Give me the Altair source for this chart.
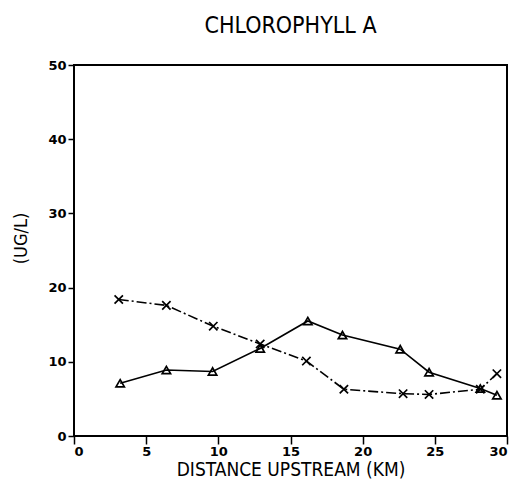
import altair as alt
import pandas as pd

# Triangle series (solid line)
tri_km = [3.2, 6.4, 9.6, 12.9, 16.2, 18.6, 22.6, 24.6, 28.15, 29.3]
tri_val = [7.1, 8.9, 8.7, 11.8, 15.5, 13.6, 11.7, 8.6, 6.4, 5.5]

# X-mark series (dash-dot line)
x_km = [3.1, 6.4, 9.65, 12.9, 16.1, 18.7, 22.8, 24.6, 28.15, 29.3]
x_val = [18.4, 17.6, 14.8, 12.4, 10.1, 6.3, 5.7, 5.6, 6.3, 8.4]

x_ticks = [0, 5, 10, 15, 20, 25, 30]
y_ticks = [0, 10, 20, 30, 40, 50]

tri_df = pd.DataFrame({"km": tri_km, "val": tri_val})
x_df = pd.DataFrame({"km": x_km, "val": x_val})

NARROW = "Liberation Sans Narrow, DejaVu Sans Condensed, Liberation Sans, sans-serif"

xs = alt.Scale(domain=[0, 30], nice=False, zero=False)
ys = alt.Scale(domain=[0, 50], nice=False)

xenc = alt.X("km:Q", scale=xs, axis=alt.Axis(
    values=x_ticks, title="DISTANCE UPSTREAM (KM)", grid=False,
    tickSize=8, tickColor="black", tickWidth=1.5, domain=False,
    labelFont="DejaVu Sans", labelFontWeight="bold", labelFontSize=13,
    labelColor="black", labelPadding=1,
    titleFont=NARROW, titleFontSize=19, titleFontWeight="normal",
    titleColor="black", titlePadding=2))
yenc = alt.Y("val:Q", scale=ys, axis=alt.Axis(
    values=y_ticks, title="(UG/L)", grid=False,
    tickSize=6, tickColor="black", tickWidth=1.5, domain=False,
    labelFont="DejaVu Sans", labelFontWeight="bold", labelFontSize=13,
    labelColor="black", labelPadding=2,
    titleFont=NARROW, titleFontSize=18, titleFontWeight="normal",
    titleColor="black", titleAngle=270, titleAlign="center", titleBaseline="middle",
    titleX=-53, titleY=173))

XSHAPE = "M-1,-1L1,1M1,-1L-1,1"

tri_line = alt.Chart(tri_df).mark_line(color="black", strokeWidth=1.6).encode(x=xenc, y=yenc)
tri_pts = alt.Chart(tri_df).mark_point(
    shape="triangle-up", filled=False, color="black", size=70, strokeWidth=1.7, opacity=1
).encode(x="km:Q", y="val:Q")

x_line = alt.Chart(x_df).mark_line(
    color="black", strokeWidth=1.6, strokeDash=[10, 3, 2, 3]
).encode(x="km:Q", y="val:Q")
x_pts = alt.Chart(x_df).mark_point(
    shape=XSHAPE, filled=False, color="black", size=70, strokeWidth=1.7, opacity=1
).encode(x="km:Q", y="val:Q")

chart = alt.layer(tri_line, x_line, tri_pts, x_pts).properties(
    width=433, height=371,
    title=alt.TitleParams("CHLOROPHYLL A", font=NARROW, fontSize=23,
                          fontWeight="normal", color="black", anchor="middle", offset=21),
    autosize=alt.AutoSizeParams(type="none"),
    padding={"left": 66, "top": 57, "right": 10, "bottom": 52},
).configure(
    background="white",
    view=alt.ViewConfig(stroke="black", strokeWidth=2),
)

chart.save("out.html", embed_options={"renderer": "svg", "actions": False})
